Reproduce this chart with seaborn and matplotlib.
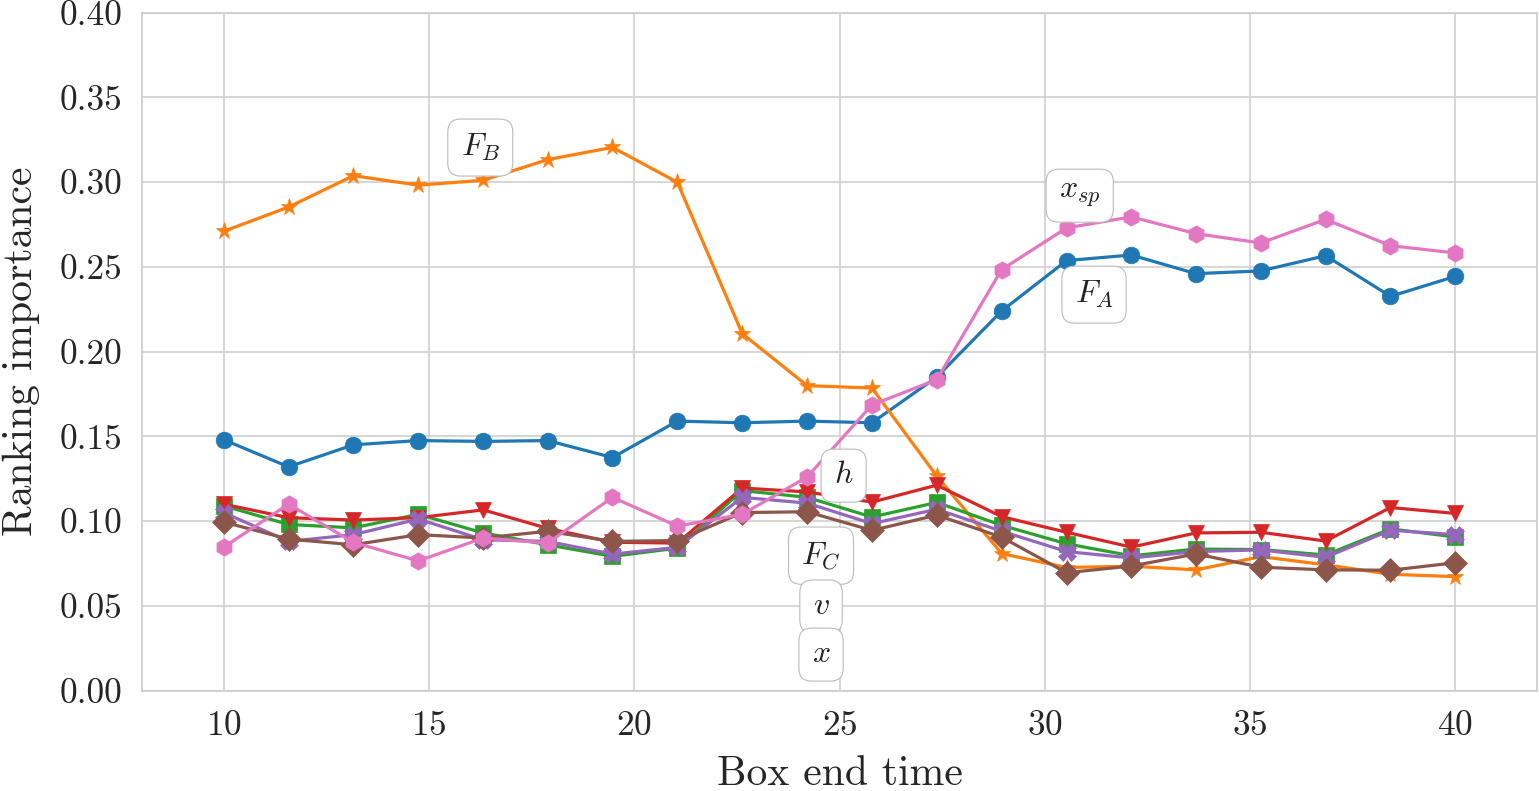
import numpy as np
import pandas as pd
import matplotlib
matplotlib.use("Agg")
import matplotlib.pyplot as plt
import seaborn as sns

box_end_time = [10.0, 11.58, 13.16, 14.74, 16.32, 17.89, 19.47, 21.05, 22.63, 24.21,
                25.79, 27.37, 28.95, 30.53, 32.11, 33.68, 35.26, 36.84, 38.42, 40.0]

F_A = [0.148, 0.132, 0.145, 0.1475, 0.147, 0.1475, 0.1375, 0.159, 0.158, 0.159,
       0.158, 0.185, 0.224, 0.2537, 0.257, 0.246, 0.2476, 0.2566, 0.2326, 0.2444]
F_B = [0.271, 0.2853, 0.3038, 0.2982, 0.3011, 0.3133, 0.3205, 0.2999, 0.2106, 0.1799,
       0.1785, 0.1265, 0.0808, 0.0726, 0.0734, 0.0712, 0.0790, 0.0742, 0.0686, 0.0672]
F_C = [0.109, 0.098, 0.096, 0.104, 0.093, 0.086, 0.0792, 0.084, 0.118, 0.114,
       0.1024, 0.111, 0.0975, 0.0866, 0.0795, 0.0835, 0.0832, 0.0800, 0.0954, 0.0906]
v_ = [0.110, 0.102, 0.1006, 0.102, 0.1066, 0.0957, 0.0875, 0.087, 0.1195, 0.1172,
      0.1112, 0.1212, 0.1026, 0.0934, 0.0846, 0.0930, 0.0934, 0.0882, 0.1080, 0.1045]
x_ = [0.105, 0.088, 0.092, 0.1012, 0.089, 0.088, 0.0805, 0.0845, 0.114, 0.1106,
      0.0985, 0.107, 0.094, 0.0820, 0.0782, 0.0820, 0.0830, 0.0786, 0.0946, 0.0920]
h_ = [0.0994, 0.0894, 0.086, 0.092, 0.090, 0.094, 0.0880, 0.0885, 0.105, 0.1055,
      0.0945, 0.1035, 0.0905, 0.0695, 0.0735, 0.0806, 0.0728, 0.0712, 0.0710, 0.0754]
x_sp = [0.0846, 0.110, 0.0874, 0.0765, 0.090, 0.087, 0.1140, 0.097, 0.104, 0.126,
        0.1685, 0.1835, 0.2484, 0.2730, 0.2795, 0.2696, 0.2641, 0.2780, 0.2625, 0.2582]

series = [F_A, F_B, F_C, v_, x_, h_, x_sp]
markers = ["o", "*", "s", "v", "X", "D", "h"]
marker_sizes = [12, 12.5, 11.5, 12, 12.5, 12, 12.5]
colors = sns.color_palette("tab10", 7)

labels = [r"$F_B$", r"$x_{sp}$", r"$F_A$", r"$h$", r"$F_C$", r"$v$", r"$x$"]
label_x = [16.25, 30.85, 31.2, 25.1, 24.55, 24.55, 24.55]
label_y = [0.3204, 0.292, 0.2336, 0.1268, 0.0796, 0.0496, 0.0212]

sns.set_theme(style="whitegrid")
plt.rcParams["font.family"] = "serif"
plt.rcParams["font.serif"] = ["cmr10", "DejaVu Serif"]
plt.rcParams["mathtext.fontset"] = "cm"
plt.rcParams["axes.formatter.use_mathtext"] = True

fig, ax = plt.subplots(figsize=(15.39, 7.91), dpi=100)

for vals, mk, ms, col in zip(series, markers, marker_sizes, colors):
    sns.lineplot(x=box_end_time, y=vals, ax=ax, color=col, marker=mk,
                 markersize=ms, linewidth=2.3, markeredgewidth=0.5,
                 markeredgecolor=col)

for t, lx, ly in zip(labels, label_x, label_y):
    ax.text(lx, ly, t, fontsize=23, ha="center", va="center", color="#222222",
            bbox=dict(boxstyle="round,pad=0.4", fc="white", ec="#bbbbbb", lw=0.8))

ax.set_xlim(8.0, 42.0)
ax.set_ylim(0.0, 0.40)
ax.set_xticks([10, 15, 20, 25, 30, 35, 40])
ax.set_yticks(np.arange(0, 0.41, 0.05))
ax.set_yticklabels([f"{v:.2f}" for v in np.arange(0, 0.41, 0.05)])
ax.tick_params(labelsize=25.5, pad=8)
ax.set_xlabel("Box end time", fontsize=30, labelpad=10)
ax.set_ylabel("Ranking importance", fontsize=30, labelpad=14)
for s in ax.spines.values():
    s.set_color("#cccccc")
ax.grid(color="#d0d0d0", linewidth=1.2)

fig.subplots_adjust(left=0.092, right=0.999, top=0.984, bottom=0.127)
fig.savefig("out.png", dpi=100)
